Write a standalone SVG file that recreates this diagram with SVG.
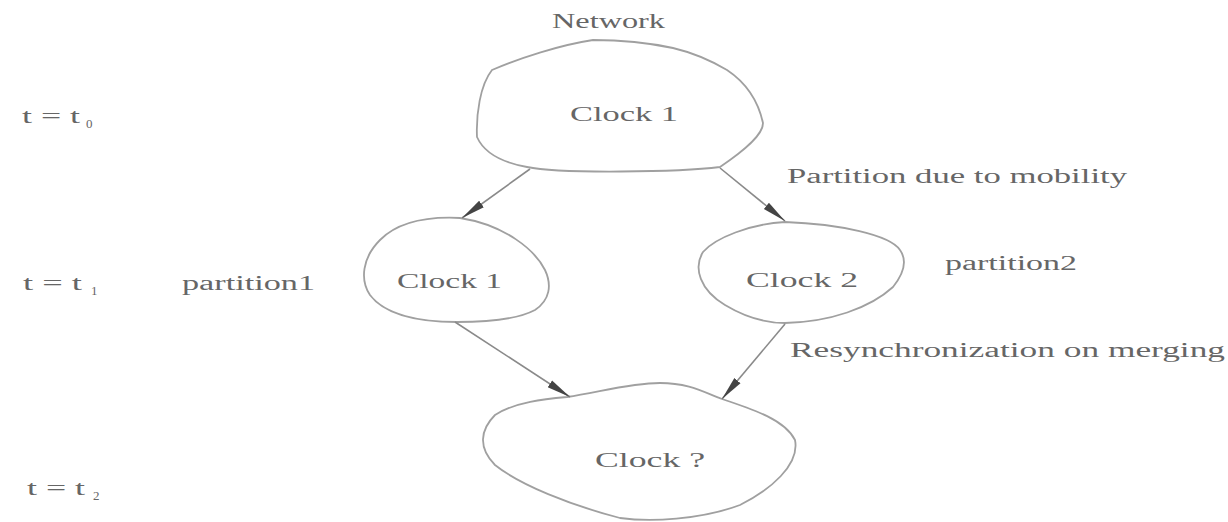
<svg xmlns="http://www.w3.org/2000/svg" width="1228" height="522" viewBox="0 0 1228 522">
<style>
.blob{fill:none;stroke:#a0a0a0;stroke-width:1.8}
.conn{fill:none;stroke:#8a8a8a;stroke-width:1.6}
.t{font-family:"Liberation Serif","Times New Roman",serif;font-size:20px;fill:#666}
.s{font-family:"Liberation Serif","Times New Roman",serif;font-size:13px;fill:#666}
</style>
<defs>
<marker id="ah" markerUnits="userSpaceOnUse" markerWidth="26" markerHeight="12" refX="24" refY="5" orient="auto">
<path d="M0,1 L24,5 L0,9 Z" fill="#444"/>
</marker>
</defs>
<rect width="1228" height="522" fill="#fff"/>
<g id="labels">
<text class="t" x="22" y="123" textLength="58" lengthAdjust="spacingAndGlyphs">t = t</text>
<text class="s" x="86" y="128">0</text>
<text class="t" x="23" y="290" textLength="59" lengthAdjust="spacingAndGlyphs">t = t</text>
<text class="s" x="91" y="295">1</text>
<text class="t" x="27" y="495" textLength="58" lengthAdjust="spacingAndGlyphs">t = t</text>
<text class="s" x="93" y="500">2</text>
<text class="t" x="552" y="28" textLength="113" lengthAdjust="spacingAndGlyphs">Network</text>
<text class="t" x="182" y="290" textLength="133" lengthAdjust="spacingAndGlyphs">partition1</text>
<text class="t" x="945" y="270" textLength="132" lengthAdjust="spacingAndGlyphs">partition2</text>
<text class="t" x="787" y="183" textLength="340" lengthAdjust="spacingAndGlyphs">Partition due to mobility</text>
<text class="t" x="790" y="357" textLength="435" lengthAdjust="spacingAndGlyphs">Resynchronization on merging</text>
</g>
<g id="node-top">
<path class="blob" d="M593,40 C560,45 520,58 492,70 C480,85 476,115 477,137 C485,155 505,163 527,167 C560,174 680,172 720,167 C745,150 763,135 763,123 C758,100 745,82 727,70 C710,60 690,52 673,48 C645,42 615,40 593,40 Z"/>
<text class="t" x="570" y="121" textLength="108" lengthAdjust="spacingAndGlyphs">Clock 1</text>
</g>
<g id="node-left">
<path class="blob" d="M460,218 C420,216 395,225 380,240 C362,258 360,280 370,295 C385,315 420,322 457,322 C490,322 520,318 535,310 C550,300 552,285 545,270 C535,250 505,225 460,218 Z"/>
<text class="t" x="397" y="288" textLength="105" lengthAdjust="spacingAndGlyphs">Clock 1</text>
</g>
<g id="node-right">
<path class="blob" d="M785,222 C750,224 715,238 703,252 C693,268 700,290 725,305 C745,317 765,323 785,323 C830,322 870,308 893,287 C905,272 907,260 900,250 C890,235 840,224 785,222 Z"/>
<text class="t" x="746" y="287" textLength="112" lengthAdjust="spacingAndGlyphs">Clock 2</text>
</g>
<g id="node-bottom">
<path class="blob" d="M567,397 C600,392 630,383 660,383 C690,383 705,393 722,399 C755,410 785,420 795,440 C800,465 770,490 740,505 C700,520 650,522 620,518 C570,505 520,485 495,465 C478,448 480,430 495,415 C515,402 545,399 567,397 Z"/>
<text class="t" x="595" y="467" textLength="110" lengthAdjust="spacingAndGlyphs">Clock ?</text>
</g>
<g id="connectors">
<line class="conn" x1="530" y1="169" x2="462" y2="218" marker-end="url(#ah)"/>
<line class="conn" x1="720" y1="168" x2="785" y2="221" marker-end="url(#ah)"/>
<line class="conn" x1="455" y1="322" x2="570" y2="397" marker-end="url(#ah)"/>
<line class="conn" x1="785" y1="324" x2="722" y2="399" marker-end="url(#ah)"/>
</g>
</svg>
